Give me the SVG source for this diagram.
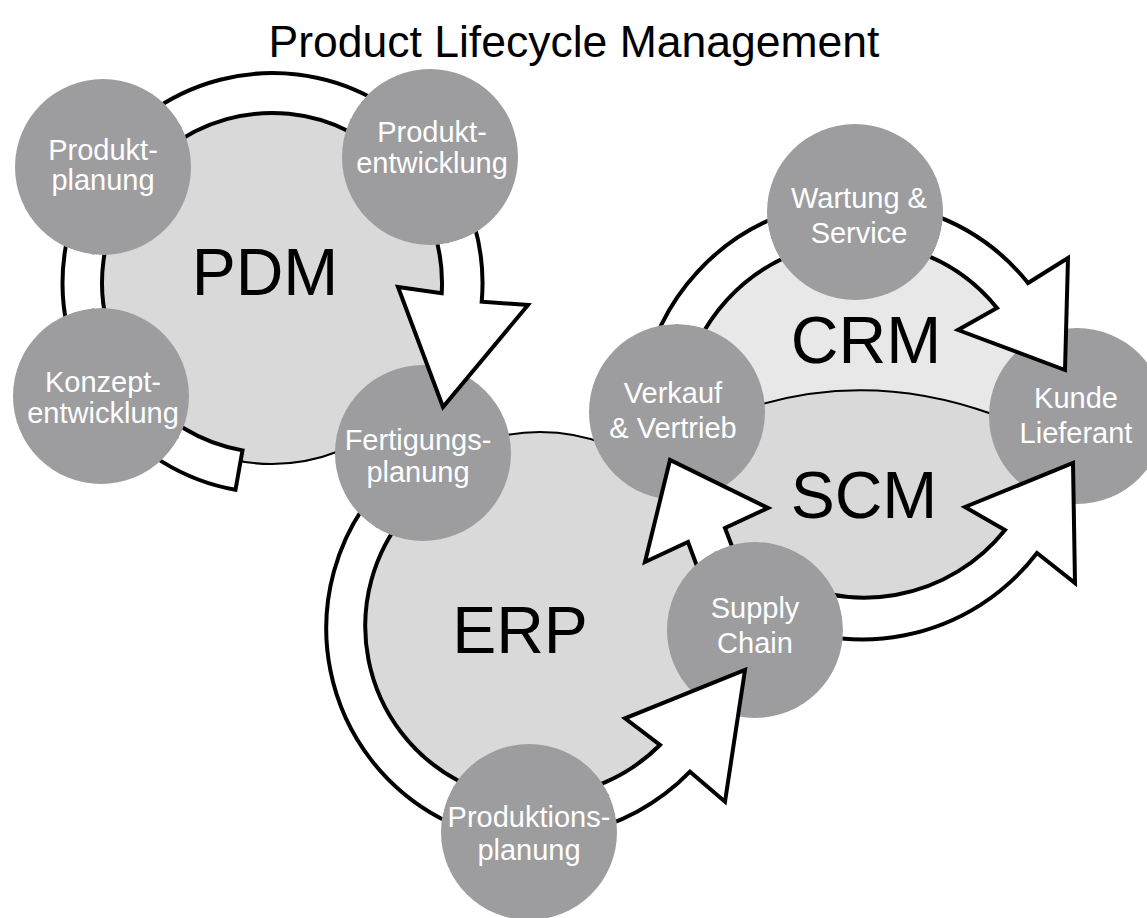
<svg xmlns="http://www.w3.org/2000/svg" width="1147" height="918" viewBox="0 0 1147 918">
  <style>
    .disc { fill: #d9d9d9; stroke: #000; stroke-width: 2; }
    .crm-fill { fill: #e8e8e8; }
    .sep { fill: none; stroke: #000; stroke-width: 2; }
    .node { fill: #9d9d9f; }
    .ring { fill: #fff; stroke: #000; stroke-width: 4; stroke-linejoin: miter; stroke-miterlimit: 10; }
    text { font-family: "Liberation Sans", Arial, sans-serif; text-anchor: middle; }
    .lbl { font-size: 29px; fill: #fff; }
    .big { font-size: 66px; fill: #000; }
    .title { font-size: 44.5px; fill: #000; }
  </style>
  <defs>
    <!-- separator between the CRM and SCM halves; everything above it gets the lighter tone -->
    <clipPath id="crm-top">
      <path d="M 600 420 L 700 414 L 762 404 Q 875 372 992 414 L 1040 432 L 1110 444 L 1110 150 L 600 150 Z"/>
    </clipPath>
    <!-- each cycle ring runs underneath the circles it passes -->
    <mask id="m-pdm" maskUnits="userSpaceOnUse" x="0" y="0" width="1147" height="918">
      <rect width="1147" height="918" fill="#fff"/>
      <circle cx="103" cy="167" r="88" fill="#000"/>
      <circle cx="430" cy="157" r="88" fill="#000"/>
      <circle cx="101" cy="396" r="88" fill="#000"/>
    </mask>
    <mask id="m-erp" maskUnits="userSpaceOnUse" x="0" y="0" width="1147" height="918">
      <rect width="1147" height="918" fill="#fff"/>
      <circle cx="423" cy="453" r="88" fill="#000"/>
      <circle cx="529" cy="832" r="88" fill="#000"/>
    </mask>
    <mask id="m-crm" maskUnits="userSpaceOnUse" x="0" y="0" width="1147" height="918">
      <rect width="1147" height="918" fill="#fff"/>
      <circle cx="677" cy="412" r="88" fill="#000"/>
      <circle cx="855" cy="212" r="88" fill="#000"/>
    </mask>
    <mask id="m-scm" maskUnits="userSpaceOnUse" x="0" y="0" width="1147" height="918">
      <rect width="1147" height="918" fill="#fff"/>
      <circle cx="755" cy="630" r="88" fill="#000"/>
    </mask>
  </defs>

  <rect width="1147" height="918" fill="#fff"/>

  <text class="title" x="574" y="57">Product Lifecycle Management</text>

  <!-- system areas -->
  <g id="pdm">
    <circle class="disc" cx="272" cy="283" r="181"/>
    <text class="big" x="265" y="295">PDM</text>
  </g>
  <g id="erp">
    <circle class="disc" cx="540" cy="620" r="188"/>
    <text class="big" x="520" y="653">ERP</text>
  </g>
  <g id="scm">
    <circle cx="858" cy="419" r="190" fill="#d9d9d9"/>
    <text class="big" x="864" y="518">SCM</text>
  </g>
  <g id="crm">
    <circle class="crm-fill" cx="858" cy="419" r="190" clip-path="url(#crm-top)"/>
    <path class="sep" d="M 700 414 L 762 404 Q 875 372 992 414 L 1040 432"/>
    <text class="big" x="866" y="363">CRM</text>
  </g>

  <!-- process steps -->
  <g id="produktplanung">
    <circle class="node" cx="103" cy="167" r="88"/>
    <text class="lbl" x="103" y="160">Produkt-</text>
    <text class="lbl" x="103" y="190">planung</text>
  </g>
  <g id="produktentwicklung">
    <circle class="node" cx="430" cy="157" r="88"/>
    <text class="lbl" x="432" y="142">Produkt-</text>
    <text class="lbl" x="432" y="173">entwicklung</text>
  </g>
  <g id="konzeptentwicklung">
    <circle class="node" cx="101" cy="396" r="88"/>
    <text class="lbl" x="103" y="392">Konzept-</text>
    <text class="lbl" x="103" y="423">entwicklung</text>
  </g>
  <g id="fertigungsplanung">
    <circle class="node" cx="423" cy="453" r="88"/>
    <text class="lbl" x="418" y="450">Fertigungs-</text>
    <text class="lbl" x="418" y="482">planung</text>
  </g>
  <g id="produktionsplanung">
    <circle class="node" cx="529" cy="832" r="88"/>
    <text class="lbl" x="529" y="827">Produktions-</text>
    <text class="lbl" x="529" y="860">planung</text>
  </g>
  <g id="supply-chain">
    <circle class="node" cx="755" cy="630" r="88"/>
    <text class="lbl" x="755" y="618">Supply</text>
    <text class="lbl" x="755" y="653">Chain</text>
  </g>
  <g id="verkauf-vertrieb">
    <circle class="node" cx="677" cy="412" r="88"/>
    <text class="lbl" x="673" y="403">Verkauf</text>
    <text class="lbl" x="673" y="438">&amp; Vertrieb</text>
  </g>
  <g id="wartung-service">
    <circle class="node" cx="855" cy="212" r="88"/>
    <text class="lbl" x="859" y="208">Wartung &amp;</text>
    <text class="lbl" x="859" y="243">Service</text>
  </g>
  <g id="kunde-lieferant">
    <circle class="node" cx="1077" cy="416" r="88"/>
    <text class="lbl" x="1076" y="408">Kunde</text>
    <text class="lbl" x="1076" y="443">Lieferant</text>
  </g>

  <!-- cycle arrows -->
  <g id="connectors">
    <path class="ring" mask="url(#m-pdm)" d="M 235.5 489.8 A 210 210 0 1 1 481.7 301.7 L 528 305 L 443 407 L 398 287 L 441.7 293.3 A 170 170 0 1 0 242.5 450.4 Z"/>
    <path class="ring" mask="url(#m-erp)" d="M 375 492 A 215 215 0 0 0 440 818 A 220 220 0 0 0 690 771.7 L 725 801.7 L 745 670 L 625 718.3 L 660 745 A 180 180 0 0 1 457 780 A 175 175 0 0 1 405 515 Z"/>
    <path class="ring" mask="url(#m-crm)" d="M 643 383 A 218 218 0 0 1 1028 283 L 1068 258 L 1065 370 L 958 330 L 997 308 A 178 178 0 0 0 683 390 Z"/>
    <path class="ring" mask="url(#m-scm)" d="M 749 608 A 220 220 0 0 0 1037 553 L 1075 583 L 1073 463 L 965 507 L 1005 530 A 180 180 0 0 1 770 571 Z"/>
    <path class="ring" mask="url(#m-scm)" d="M 704 585 L 688 542 L 645 562 L 670 460 L 768 508 L 725 528 L 744 578 Z"/>
  </g>
</svg>
